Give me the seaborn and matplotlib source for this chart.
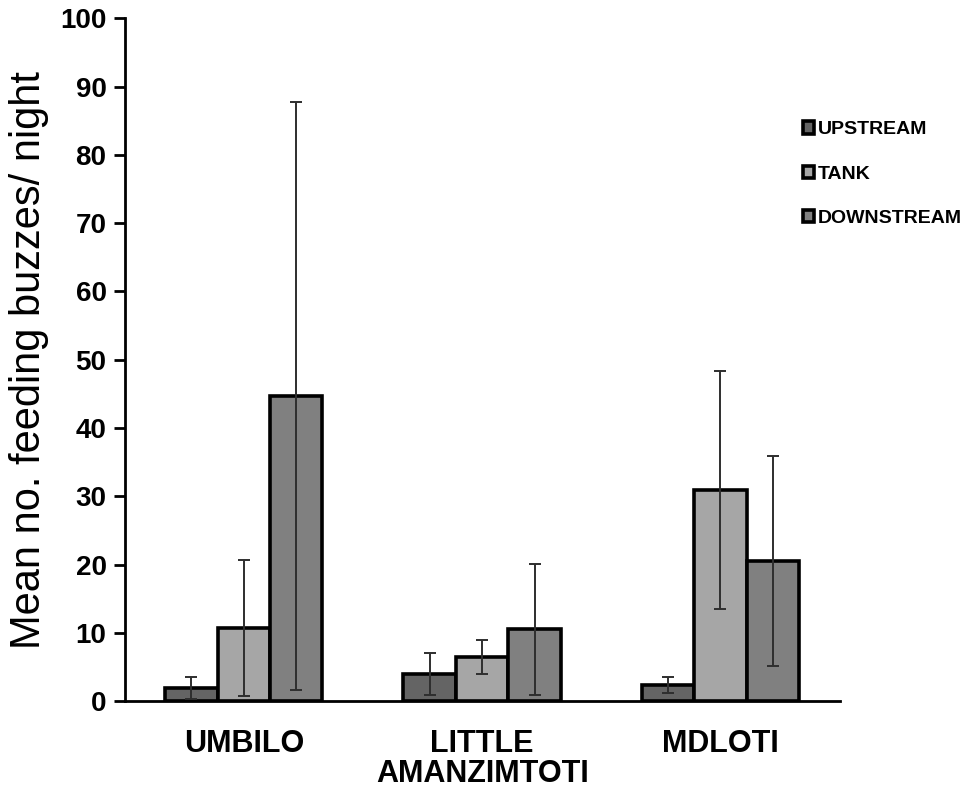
import numpy as np
import pandas as pd
import matplotlib
matplotlib.use('Agg')
import matplotlib.pyplot as plt
import seaborn as sns

# values (mean +/- error)
rivers = ['UMBILO', 'LITTLE\nAMANZIMTOTI', 'MDLOTI']
sites = ['UPSTREAM', 'TANK', 'DOWNSTREAM']
upstream_mean = [1.9, 4.0, 2.4]
tank_mean = [10.7, 6.4, 30.9]
downstream_mean = [44.7, 10.5, 20.5]
upstream_err = [1.6, 3.1, 1.2]
tank_err = [9.9, 2.5, 17.4]
downstream_err = [43.1, 9.6, 15.4]
y_ticks = [0, 10, 20, 30, 40, 50, 60, 70, 80, 90, 100]

site_colors = ['#646464', '#a6a6a6', '#808080']

means = [upstream_mean, tank_mean, downstream_mean]
errs = [upstream_err, tank_err, downstream_err]
rows = []
for s, site in enumerate(sites):
    for r, river in enumerate(rivers):
        rows.append({'river': river, 'site': site, 'mean': means[s][r], 'err': errs[s][r]})
df = pd.DataFrame(rows)

sns.set_style('white')
plt.rcParams['font.family'] = ['Liberation Sans', 'DejaVu Sans']
plt.rcParams['text.color'] = 'black'
plt.rcParams['axes.labelcolor'] = 'black'
plt.rcParams['xtick.color'] = 'black'
plt.rcParams['ytick.color'] = 'black'

fig = plt.figure(figsize=(9.74, 7.94), dpi=100)
ax = fig.add_axes([0.128, 0.117, 0.734, 0.860])

sns.barplot(data=df, x='river', y='mean', hue='site', order=rivers, hue_order=sites,
            palette=site_colors, width=0.66, gap=0, edgecolor='black', linewidth=2.6,
            errorbar=None, ax=ax)

# error bars on top of each bar
bar_groups = list(ax.containers)
for s, cont in enumerate(bar_groups):
    xs = [b.get_x() + b.get_width() / 2 for b in cont]
    ys = [b.get_height() for b in cont]
    ax.errorbar(xs, ys, yerr=errs[s], fmt='none', ecolor='#2e2e2e',
                elinewidth=1.4, capsize=4, capthick=1.4, zorder=5)

ax.set_ylim(0, 100)
ax.set_xlim(-0.5, 2.5)
ax.set_yticks(y_ticks)
ax.set_yticklabels([str(t) for t in y_ticks], fontsize=20, fontweight='bold')
ax.set_xticks(range(len(rivers)))
ax.set_xticklabels(rivers, fontsize=22, fontweight='bold', linespacing=1.0)
ax.set_xticks([-0.5, 0.5, 1.5, 2.5], minor=True)
ax.tick_params(axis='x', which='major', length=0, pad=20)
ax.tick_params(axis='x', which='minor', length=8, width=2, direction='out')
ax.tick_params(axis='y', which='major', length=8, width=2, direction='out', pad=5, left=True)

for side in ['top', 'right']:
    ax.spines[side].set_visible(False)
for side in ['left', 'bottom']:
    ax.spines[side].set_linewidth(2)
    ax.spines[side].set_color('black')

ax.set_xlabel('')
ax.set_ylabel('Mean no. feeding buzzes/ night', fontsize=30, labelpad=8)

handles, labels = ax.get_legend_handles_labels()
ax.legend(handles, labels, loc='upper left', bbox_to_anchor=(0.816, 0.857),
          bbox_transform=fig.transFigure, frameon=False,
          prop={'weight': 'bold', 'size': 14}, handlelength=0.6, handleheight=0.6,
          handletextpad=0.2, labelspacing=1.4, borderaxespad=0)

fig.savefig('out.png', dpi=100)
